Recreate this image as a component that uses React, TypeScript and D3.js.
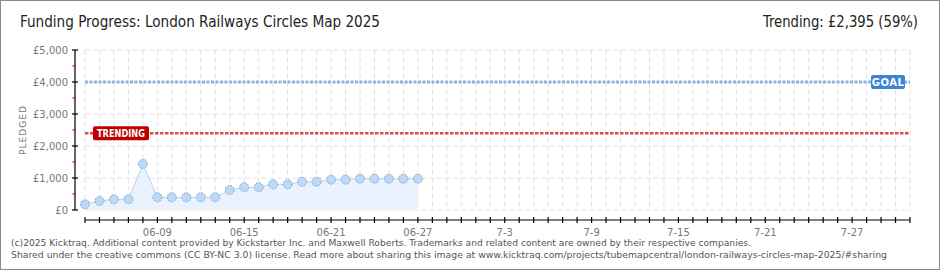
import React from "react";
import * as d3 from "d3";

const dates: string[] = [
  "2025-06-04", "2025-06-05", "2025-06-06", "2025-06-07", "2025-06-08", "2025-06-09",
  "2025-06-10", "2025-06-11", "2025-06-12", "2025-06-13", "2025-06-14", "2025-06-15",
  "2025-06-16", "2025-06-17", "2025-06-18", "2025-06-19", "2025-06-20", "2025-06-21",
  "2025-06-22", "2025-06-23", "2025-06-24", "2025-06-25", "2025-06-26", "2025-06-27",
];
const pledged: number[] = [
  178, 281, 334, 334, 1437, 397,
  397, 397, 397, 397, 625, 709,
  709, 803, 803, 884, 884, 947,
  947, 978, 978, 978, 978, 978,
];
const domainStart = "2025-06-04";
const domainEnd = "2025-07-31";
const xLabelDates: string[] = [
  "2025-06-09", "2025-06-15", "2025-06-21", "2025-06-27", "2025-07-03",
  "2025-07-09", "2025-07-15", "2025-07-21", "2025-07-27",
];
const xLabels: string[] = ["06-09", "06-15", "06-21", "06-27", "7-3", "7-9", "7-15", "7-21", "7-27"];
const yMajor: number[] = [0, 1000, 2000, 3000, 4000, 5000];
const yLabels: string[] = ["£0", "£1,000", "£2,000", "£3,000", "£4,000", "£5,000"];
const yMinor: number[] = [500, 1500, 2500, 3500, 4500];
const goal = 4000;
const trending = 2395;
const title = "Funding Progress: London Railways Circles Map 2025";
const trendingText = "Trending: £2,395 (59%)";
const footer1 =
  "(c)2025 Kicktraq. Additional content provided by Kickstarter Inc. and Maxwell Roberts. Trademarks and related content are owned by their respective companies.";
const footer2 =
  "Shared under the creative commons (CC BY-NC 3.0) license. Read more about sharing this image at www.kicktraq.com/projects/tubemapcentral/london-railways-circles-map-2025/#sharing";

const W = 940;
const H = 270;

export default function App() {
  const parse = (s: string) => new Date(s + "T00:00:00Z");
  const x = d3
    .scaleUtc()
    .domain([parse(domainStart), parse(domainEnd)])
    .range([85, 910]);
  const y = d3.scaleLinear().domain([0, 5000]).range([210, 50]);
  const allDays = d3.utcDay.range(parse(domainStart), d3.utcDay.offset(parse(domainEnd), 1));
  const pts = dates.map((d, i) => ({ x: x(parse(d)), y: y(pledged[i]) }));
  const line = d3
    .line<{ x: number; y: number }>()
    .x((d) => d.x)
    .y((d) => d.y);
  const area = d3
    .area<{ x: number; y: number }>()
    .x((d) => d.x)
    .y0(y(0))
    .y1((d) => d.y);
  const x0 = x.range()[0];
  const x1 = x.range()[1];
  const axisFont = "'DejaVu Sans', Verdana, sans-serif";

  return (
    <svg
      width={W}
      height={H}
      style={{ position: "absolute", left: 0, top: 0, background: "#fff" }}
    >
      <rect x={0.5} y={0.5} width={W - 1} height={H - 1} fill="#fff" stroke="#8a8a8a" />
      <text
        x={20}
        y={27}
        fontSize={16}
        fill="#222"
        fontFamily="'DejaVu Sans Condensed', 'Liberation Sans Narrow', sans-serif"
        textLength={360}
        lengthAdjust="spacingAndGlyphs"
      >
        {title}
      </text>
      <text
        x={763}
        y={27}
        fontSize={16}
        fill="#222"
        fontFamily="'DejaVu Sans Condensed', 'Liberation Sans Narrow', sans-serif"
        textLength={155}
        lengthAdjust="spacingAndGlyphs"
      >
        {trendingText}
      </text>

      {/* grid */}
      {allDays.map((d, i) => (
        <line
          key={"vg" + i}
          x1={x(d)}
          x2={x(d)}
          y1={50}
          y2={210}
          stroke="#e2e2e2"
          strokeDasharray="5,3"
        />
      ))}
      {yMajor.map((v) => (
        <line
          key={"hg" + v}
          x1={x0}
          x2={x1}
          y1={y(v)}
          y2={y(v)}
          stroke="#e2e2e2"
          strokeDasharray="5,3"
        />
      ))}

      {/* area + line + points */}
      <path d={area(pts) || ""} fill="#eaf3fd" />
      <path d={line(pts) || ""} fill="none" stroke="#b5d5f5" strokeWidth={1} />
      {pts.map((p, i) => (
        <circle
          key={"pt" + i}
          cx={p.x}
          cy={p.y}
          r={4.5}
          fill="#bcd9f7"
          stroke="#8ea8c6"
          strokeWidth={1}
          strokeDasharray="2,1"
        />
      ))}

      {/* goal & trending */}
      <line
        x1={x0}
        x2={x1}
        y1={y(goal)}
        y2={y(goal)}
        stroke="#8cb1dc"
        strokeWidth={3}
        strokeDasharray="3,1.5"
      />
      <line
        x1={x0}
        x2={x1}
        y1={y(trending)}
        y2={y(trending)}
        stroke="#e04848"
        strokeWidth={2.5}
        strokeDasharray="3.5,1.5"
      />
      <rect x={871} y={y(goal) - 7} width={34} height={14} rx={2} fill="#3a86d6" />
      <text
        x={888}
        y={y(goal) + 3.5}
        textAnchor="middle"
        fontSize={10}
        fontWeight="bold"
        fill="#fff"
        fontFamily={axisFont}
        letterSpacing={0.5}
      >
        GOAL
      </text>
      <rect x={93} y={y(trending) - 7} width={56} height={14} rx={2} fill="#c00000" />
      <text
        x={121}
        y={y(trending) + 3.5}
        textAnchor="middle"
        fontSize={10}
        fontWeight="bold"
        fill="#fff"
        fontFamily={axisFont}
        textLength={48}
        lengthAdjust="spacingAndGlyphs"
      >
        TRENDING
      </text>

      {/* y axis */}
      <line x1={75} x2={75} y1={50} y2={210} stroke="#000" strokeWidth={1.2} />
      {yMajor.map((v) => (
        <line key={"yt" + v} x1={72} x2={78} y1={y(v)} y2={y(v)} stroke="#000" strokeWidth={1.2} />
      ))}
      {yMinor.map((v) => (
        <line key={"ym" + v} x1={72.5} x2={75.5} y1={y(v)} y2={y(v)} stroke="#e00000" strokeWidth={1.2} />
      ))}
      {yMajor.map((v, i) => (
        <text
          key={"yl" + v}
          x={68}
          y={y(v) + 3.5}
          textAnchor="end"
          fontSize={10}
          fill="#777"
          fontFamily={axisFont}
        >
          {yLabels[i]}
        </text>
      ))}
      <text
        transform="translate(26,130) rotate(-90)"
        textAnchor="middle"
        fontSize={9}
        fill="#777"
        fontFamily={axisFont}
        letterSpacing={1}
      >
        PLEDGED
      </text>

      {/* x axis */}
      <line x1={x0} x2={x1} y1={220} y2={220} stroke="#000" strokeWidth={1.2} />
      {allDays.map((d, i) => (
        <line key={"xt" + i} x1={x(d)} x2={x(d)} y1={217} y2={223} stroke="#000" strokeWidth={1.2} />
      ))}
      {xLabelDates.map((d, i) => (
        <text
          key={"xl" + i}
          x={x(parse(d))}
          y={236}
          textAnchor="middle"
          fontSize={10}
          fill="#777"
          fontFamily={axisFont}
        >
          {xLabels[i]}
        </text>
      ))}

      {/* footer */}
      <text
        x={11}
        y={246}
        fontSize={9}
        fill="#555"
        fontFamily="Verdana, 'DejaVu Sans', sans-serif"
        textLength={740}
        lengthAdjust="spacingAndGlyphs"
      >
        {footer1}
      </text>
      <text
        x={11}
        y={258}
        fontSize={9}
        fill="#555"
        fontFamily="Verdana, 'DejaVu Sans', sans-serif"
        textLength={876}
        lengthAdjust="spacingAndGlyphs"
      >
        {footer2}
      </text>
    </svg>
  );
}
